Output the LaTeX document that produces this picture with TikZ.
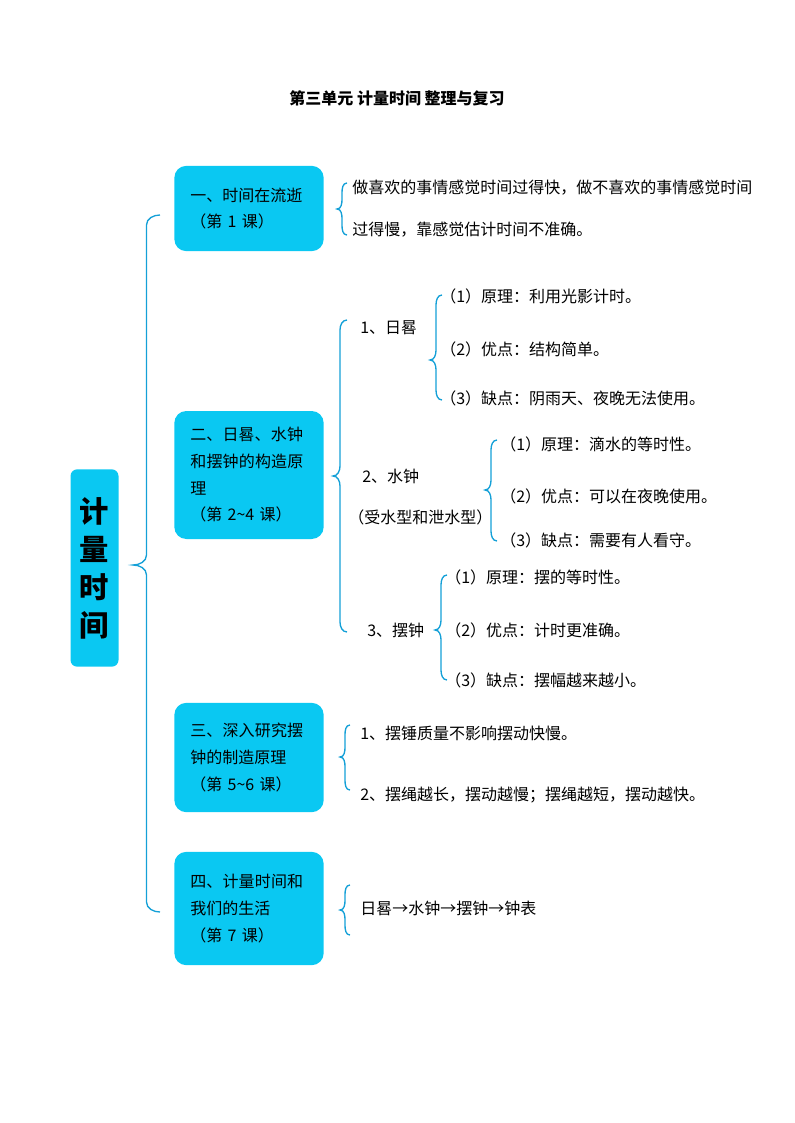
\documentclass[tikz,border=0pt]{standalone}
\usepackage{fontspec}
\setmainfont{Noto Sans CJK SC}
\XeTeXlinebreaklocale "zh"
\XeTeXlinebreakskip=0pt plus 1pt
\tikzset{
  box/.style={fill=boxcyan,rounded corners=9pt,inner xsep=12pt,text width=88pt,align=left,font=\fontsize{12}{20}\selectfont},
  txt/.style={anchor=west,inner sep=0pt,font=\fontsize{12}{14}\selectfont},
  brc/.style={draw=brcblue,line width=1pt}
}
\definecolor{boxcyan}{RGB}{10,200,242}
\definecolor{brcblue}{RGB}{20,160,215}
% x, top, bottom, tip, width
\newcommand{\curly}[5]{%
  \draw[brc] (#1,#2) to[out=180,in=90] (#1-#5/2,#2+10) -- (#1-#5/2,#4-10)
    to[out=-90,in=0] (#1-#5,#4) to[out=0,in=90] (#1-#5/2,#4+10)
    -- (#1-#5/2,#3-10) to[out=-90,in=180] (#1,#3);}
\begin{document}
\begin{tikzpicture}[x=0.75pt,y=-0.75pt]
  \useasboundingbox (0,0) rectangle (794,1123);

  % 标题
  \node[font=\fontsize{12}{14}\selectfont\bfseries] (title) at (397,98) {第三单元\ 计量时间\ 整理与复习};

  % 主题
  \node[fill=boxcyan,rounded corners=5pt,minimum width=36pt,minimum height=148pt,
        align=center,font=\fontsize{22}{28.5}\selectfont\bfseries] (root) at (94.5,568) {计\\量\\时\\间};
  \curly{160}{215}{912}{565}{27}

  % 四个部分
  \node[box,minimum height=64pt] (p1) at (249,208.5) {一、时间在流逝\\（第 1 课）};
  \node[box,minimum height=96pt] (p2) at (249,475) {二、日晷、水钟和摆钟的构造原理\\（第 2\textasciitilde4 课）};
  \node[box,minimum height=82pt] (p3) at (249,757.5) {三、深入研究摆钟的制造原理\\（第 5\textasciitilde6 课）};
  \node[box,minimum height=85pt] (p4) at (249,908.5) {四、计量时间和我们的生活\\（第 7 课）};

  % 一
  \curly{347}{183}{235}{209}{10}
  \node[txt] (a1) at (352,188) {做喜欢的事情感觉时间过得快，做不喜欢的事情感觉时间};
  \node[txt] (a2) at (352,230) {过得慢，靠感觉估计时间不准确。};

  % 二
  \curly{347}{320}{632}{476}{14}
  \node[txt] (s1) at (360,328) {1、日晷};
  \curly{442}{295}{400}{360}{12}
  \node[txt] (s11) at (440,296) {（1）原理：利用光影计时。};
  \node[txt] (s12) at (440,349) {（2）优点：结构简单。};
  \node[txt] (s13) at (440,398) {（3）缺点：阴雨天、夜晚无法使用。};

  \node[txt] (s2) at (362,476) {2、水钟};
  \node[txt] (s2b) at (348,517) {（受水型和泄水型）};
  \curly{497}{440}{541}{490}{12}
  \node[txt] (s21) at (500,444) {（1）原理：滴水的等时性。};
  \node[txt] (s22) at (500,496) {（2）优点：可以在夜晚使用。};
  \node[txt] (s23) at (500,540) {（3）缺点：需要有人看守。};

  \node[txt] (s3) at (367,630) {3、摆钟};
  \curly{447}{575}{680}{630}{12}
  \node[txt] (s31) at (445,577) {（1）原理：摆的等时性。};
  \node[txt] (s32) at (445,630) {（2）优点：计时更准确。};
  \node[txt] (s33) at (445,680) {（3）缺点：摆幅越来越小。};

  % 三
  \curly{350}{725}{790}{757}{10}
  \node[txt] (c1) at (360,733) {1、摆锤质量不影响摆动快慢。};
  \node[txt] (c2) at (360,795) {2、摆绳越长，摆动越慢；摆绳越短，摆动越快。};

  % 四
  \curly{350}{885}{935}{910}{10}
  \node[txt] (d1) at (360,908) {日晷→水钟→摆钟→钟表};
\end{tikzpicture}
\end{document}
